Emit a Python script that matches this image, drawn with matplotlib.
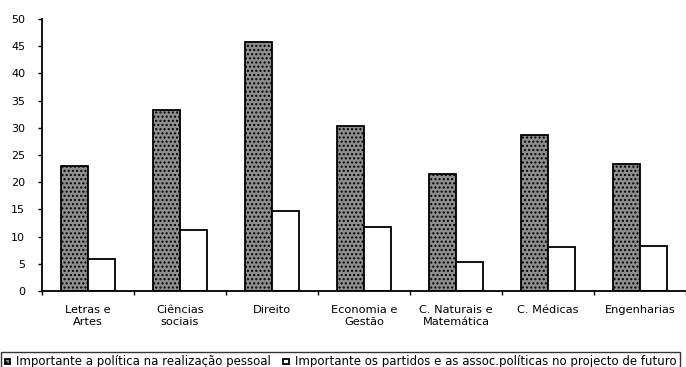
import matplotlib.pyplot as plt
import numpy as np

categorias = ["Letras e\nArtes", "Ciências\nsociais", "Direito", "Economia e\nGestão",
              "C. Naturais e\nMatemática", "C. Médicas", "Engenharias"]
realizacao_pessoal = [23.0, 33.2, 45.8, 30.3, 21.6, 28.7, 23.3]
partidos_futuro = [5.8, 11.2, 14.7, 11.8, 5.4, 8.1, 8.3]

series_labels = ["Importante a política na realização pessoal",
                 "Importante os partidos e as assoc.políticas no projecto de futuro"]

plt.rcParams["font.family"] = "DejaVu Sans"

fig = plt.figure(figsize=(6.86, 3.67), dpi=100)
ax = fig.add_axes([0.0612, 0.207, 0.9388, 0.741])

x = np.arange(len(categorias))
w = 0.29
b1 = ax.bar(x - w / 2, realizacao_pessoal, w, color="#8e8e8e", edgecolor="black",
            linewidth=1.3, hatch="....", label=series_labels[0])
b2 = ax.bar(x + w / 2, partidos_futuro, w, color="white", edgecolor="black",
            linewidth=1.3, label=series_labels[1])

ax.set_xlim(-0.5, len(categorias) - 0.5)
ax.set_ylim(0, 50)
ax.set_yticks(range(0, 51, 5))
ax.set_xticks(np.arange(len(categorias) + 1) - 0.5, minor=False)
ax.set_xticklabels([])
ax.set_xticks(x, minor=True)
ax.set_xticklabels(categorias, minor=True, fontsize=8.2)
ax.tick_params(axis="x", which="minor", length=0, pad=10)
ax.tick_params(axis="x", which="major", length=3, width=1, direction="out")
ax.tick_params(axis="y", length=3, width=1, labelsize=8, pad=9)

for side in ("top", "right"):
    ax.spines[side].set_visible(False)
for side in ("left", "bottom"):
    ax.spines[side].set_linewidth(1.3)

# legend box sits at the bottom edge, its lower border running off the figure
leg = fig.legend(handles=[b1, b2], loc="upper left", bbox_to_anchor=(0.0015, 0.041),
                 ncol=2, fontsize=8.5, frameon=True, fancybox=False,
                 handlelength=0.5, handleheight=0.3, handletextpad=0.5,
                 columnspacing=1.0, borderpad=0.3, borderaxespad=0.0)
leg.get_frame().set_edgecolor("black")
leg.get_frame().set_linewidth(1.0)

plt.savefig("out.png", dpi=100)
